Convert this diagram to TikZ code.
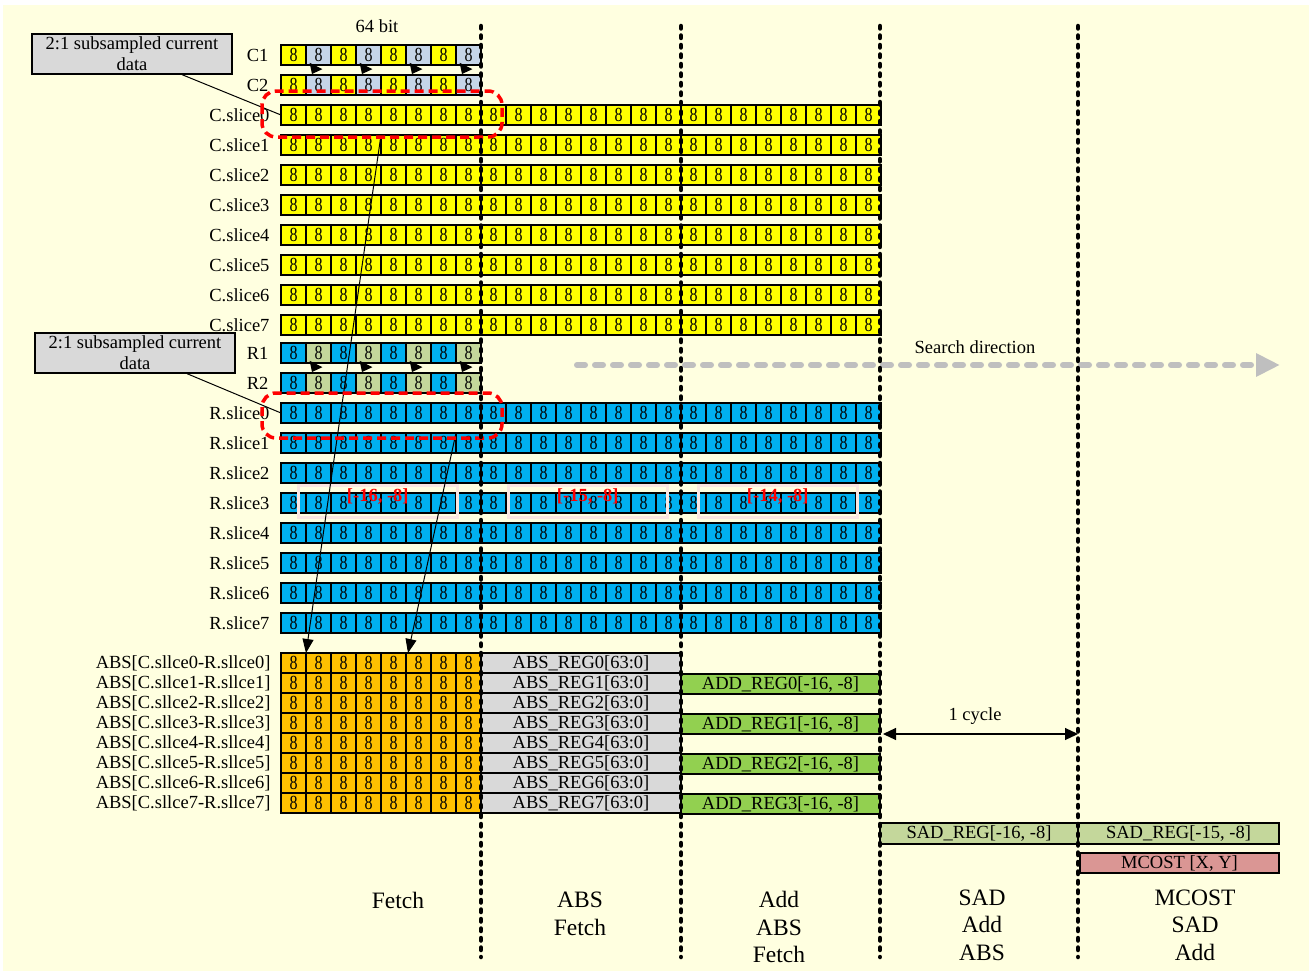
\documentclass[tikz,border=0pt]{standalone}
\usepackage{fontspec}
\usepackage{graphicx}
\setmainfont{Liberation Serif}
\usetikzlibrary{arrows.meta,calc}
\definecolor{bgy}{RGB}{255,255,224}
\definecolor{cyel}{RGB}{255,255,0}
\definecolor{cbg}{RGB}{197,213,232}
\definecolor{cblue}{RGB}{0,176,240}
\definecolor{csage}{RGB}{196,215,155}
\definecolor{corange}{RGB}{255,192,0}
\definecolor{cgrey}{RGB}{217,217,217}
\definecolor{cgreen}{RGB}{146,208,80}
\definecolor{cpink}{RGB}{218,150,148}
\definecolor{cbox}{RGB}{250,230,226}
\definecolor{csearch}{RGB}{191,191,191}
\newcommand{\lblfont}{\fontsize{18.5}{21}\selectfont}
\newcommand{\stagefont}{\fontsize{23.5}{27.5}\selectfont}
\newcommand{\cellfont}{\fontsize{20}{20}\selectfont}
\newcommand{\eight}{\scalebox{0.8}[1]{8}}
\tikzset{
  cell/.style={draw, line width=1.3pt, minimum width=25pt, minimum height=20pt, inner sep=0pt, outer sep=0pt, anchor=north west, font=\cellfont},
  reg/.style={draw, line width=1.3pt, minimum height=20pt, inner sep=0pt, outer sep=0pt, anchor=north west, font=\lblfont},
  callout/.style={draw, fill=cgrey, line width=1.3pt, minimum width=200pt, minimum height=40pt, inner sep=0pt, align=center, font=\lblfont},
  vdot/.style={line width=4.5pt, line cap=round, dash pattern=on 2.5pt off 7pt},
  reddash/.style={red, line width=3.5pt, dash pattern=on 9pt off 5pt, rounded corners=14pt},
  brbox/.style={draw=cbox, line width=2.5pt, minimum width=159pt, minimum height=32pt, inner sep=0pt, anchor=north west},
  brtext/.style={text=red, font=\lblfont\bfseries},
  longarr/.style={line width=1pt, -{Triangle[length=14pt,width=11pt]}},
  smallarr/.style={line width=1.2pt, -{Triangle[length=9pt,width=14pt]}},
  searcharr/.style={csearch, line width=6pt, line cap=round, dash pattern=on 8pt off 10pt, -{Triangle[length=24pt,width=22pt]}},
  cyclearr/.style={line width=1.2pt, {Triangle[length=13pt,width=12pt]}-{Triangle[length=13pt,width=12pt]}},
}
\begin{document}
\begin{tikzpicture}[x=1pt, y=-1pt, font=\lblfont]
\useasboundingbox (0,0) rectangle (1312,974);
\fill[bgy] (3,5) rectangle (1309,971);

% title
\node (bit) at (377,26) {64 bit};

% C1, C2
\node[anchor=east] (lc1) at (272,55) {C1};
\node[anchor=east] (lc2) at (272,85) {C2};
\foreach \i in {0,...,7}{
  \ifodd\i \def\cc{cbg}\else\def\cc{cyel}\fi
  \node[cell, fill=\cc] (c1-\i) at (281+25*\i,45) {\eight};
  \node[cell, fill=\cc] (c2-\i) at (281+25*\i,75) {\eight};
}
% C slices
\foreach \k in {0,...,7}{
  \node[anchor=east] (lcs\k) at (273,115+30*\k) {C.slice\k};
  \foreach \i in {0,...,23}{
    \node[cell, fill=cyel] (cs\k-\i) at (281+25*\i,105+30*\k) {\eight};
  }
}
% R1, R2
\node[anchor=east] (lr1) at (272,353) {R1};
\node[anchor=east] (lr2) at (272,383) {R2};
\foreach \i in {0,...,7}{
  \ifodd\i \def\cc{csage}\else\def\cc{cblue}\fi
  \node[cell, fill=\cc] (r1-\i) at (281+25*\i,343) {\eight};
  \node[cell, fill=\cc] (r2-\i) at (281+25*\i,373) {\eight};
}
% R slices
\foreach \k in {0,...,7}{
  \node[anchor=east] (lrs\k) at (273,413+30*\k) {R.slice\k};
  \foreach \i in {0,...,23}{
    \node[cell, fill=cblue] (rs\k-\i) at (281+25*\i,403+30*\k) {\eight};
  }
}
% ABS rows
\foreach \k in {0,...,7}{
  \node[anchor=east] (la\k) at (274,663+20*\k) {ABS[C.sllce\k-R.sllce\k]};
  \foreach \i in {0,...,7}{
    \node[cell, fill=corange] (abs\k-\i) at (281+25*\i,653+20*\k) {\eight};
  }
  \node[reg, fill=cgrey, minimum width=200pt] (ar\k) at (481,653+20*\k) {ABS\_REG\k[63:0]};
}
% ADD regs
\foreach \j in {0,...,3}{
  \node[reg, fill=cgreen, minimum width=199pt] (dr\j) at (681,674+40*\j) {ADD\_REG\j[-16, -8]};
}
% SAD, MCOST
\node[reg, fill=csage, minimum width=198pt, minimum height=21pt] (sad1) at (880,823) {SAD\_REG[-16, -8]};
\node[reg, fill=csage, minimum width=201pt, minimum height=21pt] (sad2) at (1078,823) {SAD\_REG[-15, -8]};
\node[reg, fill=cpink, minimum width=199pt] (mcost) at (1080,853) {MCOST [X, Y]};

% callouts
\node[callout] (cb1) at (132,54) {2:1 subsampled current\\data};
\node[callout] (cb2) at (135,353) {2:1 subsampled current\\data};
\draw[line width=1pt] ([xshift=50pt]cb1.south) -- (cs0-0.west);
\draw[line width=1pt] ([xshift=52pt]cb2.south) -- (rs0-0.west);

% small shift arrows
\foreach \i in {1,3,5,7}{
  \draw[smallarr] ([xshift=10pt,yshift=-1pt]c1-\i.south west) -- ([xshift=6pt,yshift=1pt]c2-\i.north west);
  \draw[smallarr] ([xshift=10pt,yshift=-1pt]r1-\i.south west) -- ([xshift=6pt,yshift=1pt]r2-\i.north west);
}

% bracket boxes
\node[brbox] (br1) at (297,484) {};
\node[brbox] (br2) at (507,484) {};
\node[brbox] (br3) at (697,484) {};
\node[brtext] (bt1) at ([yshift=5pt]br1.center) {[-16, -8]};
\node[brtext] (bt2) at ([yshift=5pt]br2.center) {[-15, -8]};
\node[brtext] (bt3) at ([yshift=5pt]br3.center) {[-14, -8]};

% long arrows
\draw[longarr] (cs1-3.north east) -- (abs0-1.north west);
\draw[longarr] (rs1-6.north east) -- ([xshift=2pt]abs0-5.north west);

% search direction
\coordinate (s0) at (577,365);
\coordinate (s1) at (1280,365);
\draw[searcharr] (s0) -- (s1);
\node (stext) at (975,347) {Search direction};

% red dashed groups
\draw[reddash] (262,91) rectangle (502,137);
\draw[reddash] (262,393) rectangle (502,438);

% vertical dotted stage lines
\foreach \x [count=\n] in {481,681,880,1078}{
  \coordinate (vt\n) at (\x,26);
  \coordinate (vb\n) at (\x,957);
  \draw[vdot] (vt\n) -- (vb\n);
}

% 1 cycle
\coordinate (cy0) at (883,734);
\coordinate (cy1) at (1078,734);
\draw[cyclearr] (cy0) -- (cy1);
\node (cyt) at (975,716) {1 cycle};

% stage labels
\node[font=\stagefont] (st1) at (398,900) {Fetch};
\node[font=\stagefont, align=center] (st2) at (580,914) {ABS\\Fetch};
\node[font=\stagefont, align=center] (st3) at (779,927) {Add\\ABS\\Fetch};
\node[font=\stagefont, align=center] (st4) at (982,925) {SAD\\Add\\ABS};
\node[font=\stagefont, align=center] (st5) at (1195,925) {MCOST\\SAD\\Add};
\end{tikzpicture}
\end{document}
